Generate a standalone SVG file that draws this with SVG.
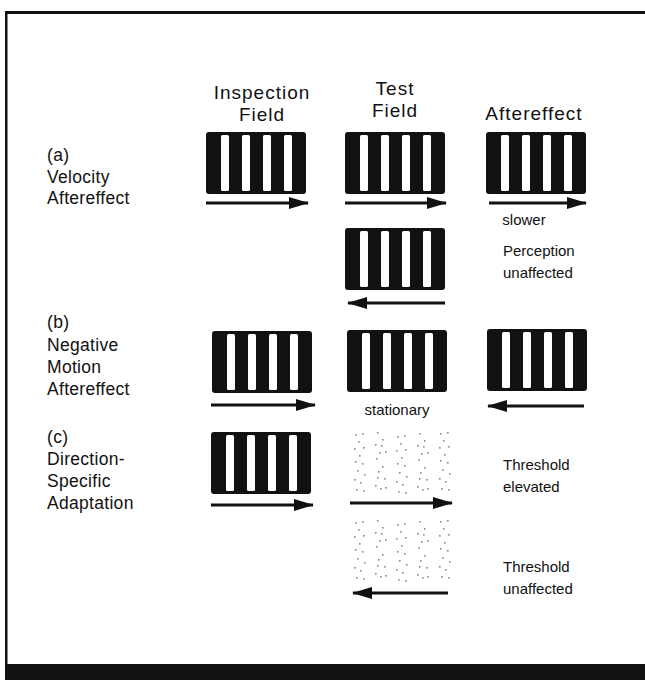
<svg xmlns="http://www.w3.org/2000/svg" xmlns:xlink="http://www.w3.org/1999/xlink" width="645" height="680" viewBox="0 0 645 680">
  <style>
    text { font-family: "Liberation Sans", Arial, Helvetica, sans-serif; fill: #111; }
    .hd { font-size: 19px; letter-spacing: 1px; text-anchor: middle; }
    .lb { font-size: 17.5px; letter-spacing: 0.3px; }
    .nt { font-size: 15px; }
    .ntc { font-size: 15px; text-anchor: middle; }
    .arrow { stroke: #111; stroke-width: 3; fill: none; marker-end: url(#head); }
    .dot { fill: #8a8a8a; }
  </style>
  <defs>
    <marker id="head" markerUnits="userSpaceOnUse" markerWidth="20" markerHeight="12" refX="19" refY="6" orient="auto">
      <path d="M0,0 L20,6 L0,12 Z" fill="#111"/>
    </marker>
    <!-- black grating with four white bars -->
    <g id="grating">
      <rect x="0" y="0" width="100" height="62" rx="3" fill="#111"/>
      <rect x="15" y="3" width="8" height="56" rx="1.5" fill="#fff"/>
      <rect x="36" y="3" width="8" height="56" rx="1.5" fill="#fff"/>
      <rect x="57" y="3" width="8" height="56" rx="1.5" fill="#fff"/>
      <rect x="78" y="3" width="8" height="56" rx="1.5" fill="#fff"/>
    </g>
    <!-- sparse dot columns for the low-contrast test gratings -->
    <g id="dotsA" class="dot">
      <rect x="2" y="4" width="1.6" height="1.6"/><rect x="9" y="3" width="1.6" height="1.6"/>
      <rect x="5" y="11" width="1.6" height="1.6"/><rect x="1" y="18" width="1.6" height="1.6"/>
      <rect x="10" y="17" width="1.6" height="1.6"/><rect x="6" y="25" width="1.6" height="1.6"/>
      <rect x="2" y="31" width="1.6" height="1.6"/><rect x="9" y="33" width="1.6" height="1.6"/>
      <rect x="4" y="40" width="1.6" height="1.6"/><rect x="11" y="44" width="1.6" height="1.6"/>
      <rect x="1" y="49" width="1.6" height="1.6"/><rect x="7" y="52" width="1.6" height="1.6"/>
      <rect x="3" y="59" width="1.6" height="1.6"/><rect x="10" y="60" width="1.6" height="1.6"/>
    </g>
    <g id="dotsB" class="dot">
      <rect x="3" y="2" width="1.6" height="1.6"/><rect x="8" y="9" width="1.6" height="1.6"/>
      <rect x="1" y="14" width="1.6" height="1.6"/><rect x="7" y="15" width="1.6" height="1.6"/>
      <rect x="11" y="21" width="1.6" height="1.6"/><rect x="5" y="22" width="1.6" height="1.6"/>
      <rect x="2" y="28" width="1.6" height="1.6"/><rect x="8" y="36" width="1.6" height="1.6"/>
      <rect x="4" y="41" width="1.6" height="1.6"/><rect x="3" y="47" width="1.6" height="1.6"/>
      <rect x="10" y="48" width="1.6" height="1.6"/><rect x="1" y="55" width="1.6" height="1.6"/>
      <rect x="11" y="57" width="1.6" height="1.6"/><rect x="6" y="58" width="1.6" height="1.6"/>
    </g>
    <g id="dotted">
      <use xlink:href="#dotsA" x="1" y="0"/>
      <use xlink:href="#dotsB" x="22" y="0"/>
      <use xlink:href="#dotsA" x="43" y="2"/>
      <use xlink:href="#dotsB" x="64" y="1"/>
      <use xlink:href="#dotsA" x="86" y="-1"/>
    </g>
  </defs>

  <rect x="0" y="0" width="645" height="680" fill="#fff"/>

  <!-- frame -->
  <g id="frame" fill="#111">
    <rect x="5" y="11" width="640" height="3"/>
    <rect x="5" y="11" width="2.5" height="656"/>
    <rect x="5" y="664" width="640" height="16"/>
  </g>

  <!-- column headings -->
  <g id="headings">
    <text class="hd" x="262" y="99">Inspection</text>
    <text class="hd" x="262" y="121">Field</text>
    <text class="hd" x="395" y="95">Test</text>
    <text class="hd" x="395" y="117">Field</text>
    <text class="hd" x="534" y="120">Aftereffect</text>
  </g>

  <!-- row labels -->
  <g id="label-a">
    <text class="lb" x="47" y="161">(a)</text>
    <text class="lb" x="47" y="183">Velocity</text>
    <text class="lb" x="47" y="204">Aftereffect</text>
  </g>
  <g id="label-b">
    <text class="lb" x="47" y="328">(b)</text>
    <text class="lb" x="47" y="351">Negative</text>
    <text class="lb" x="47" y="373">Motion</text>
    <text class="lb" x="47" y="395">Aftereffect</text>
  </g>
  <g id="label-c">
    <text class="lb" x="47" y="443">(c)</text>
    <text class="lb" x="47" y="465">Direction-</text>
    <text class="lb" x="47" y="487">Specific</text>
    <text class="lb" x="47" y="509">Adaptation</text>
  </g>

  <!-- row (a) -->
  <g id="a-inspection"><use xlink:href="#grating" x="206" y="132"/></g>
  <g id="a-test"><use xlink:href="#grating" x="345" y="132"/></g>
  <g id="a-after">
    <use xlink:href="#grating" x="486" y="132"/>
    <text class="ntc" x="524" y="225">slower</text>
  </g>
  <g id="a-test-reverse">
    <use xlink:href="#grating" x="345" y="228"/>
    <text class="nt" x="503" y="256">Perception</text>
    <text class="nt" x="503" y="278">unaffected</text>
  </g>

  <!-- row (b) -->
  <g id="b-inspection"><use xlink:href="#grating" x="212" y="331"/></g>
  <g id="b-test">
    <use xlink:href="#grating" x="347" y="330"/>
    <text class="ntc" x="397" y="415">stationary</text>
  </g>
  <g id="b-after"><use xlink:href="#grating" x="487" y="329"/></g>

  <!-- row (c) -->
  <g id="c-inspection"><use xlink:href="#grating" x="211" y="432"/></g>
  <g id="c-test-same">
    <use xlink:href="#dotted" x="352" y="430"/>
    <text class="nt" x="503" y="470">Threshold</text>
    <text class="nt" x="503" y="492">elevated</text>
  </g>
  <g id="c-test-opposite">
    <use xlink:href="#dotted" x="352" y="518"/>
    <text class="nt" x="503" y="572">Threshold</text>
    <text class="nt" x="503" y="594">unaffected</text>
  </g>

  <!-- motion arrows -->
  <g id="connectors">
    <line class="arrow" x1="206" y1="203" x2="308" y2="203"/>
    <line class="arrow" x1="345" y1="203" x2="446" y2="203"/>
    <line class="arrow" x1="489" y1="203" x2="586" y2="203"/>
    <line class="arrow" x1="445" y1="303" x2="348" y2="303"/>
    <line class="arrow" x1="211" y1="405" x2="315" y2="405"/>
    <line class="arrow" x1="584" y1="406" x2="488" y2="406"/>
    <line class="arrow" x1="211" y1="505" x2="313" y2="505"/>
    <line class="arrow" x1="350" y1="503" x2="452" y2="503"/>
    <line class="arrow" x1="448" y1="593" x2="353" y2="593"/>
  </g>
</svg>
